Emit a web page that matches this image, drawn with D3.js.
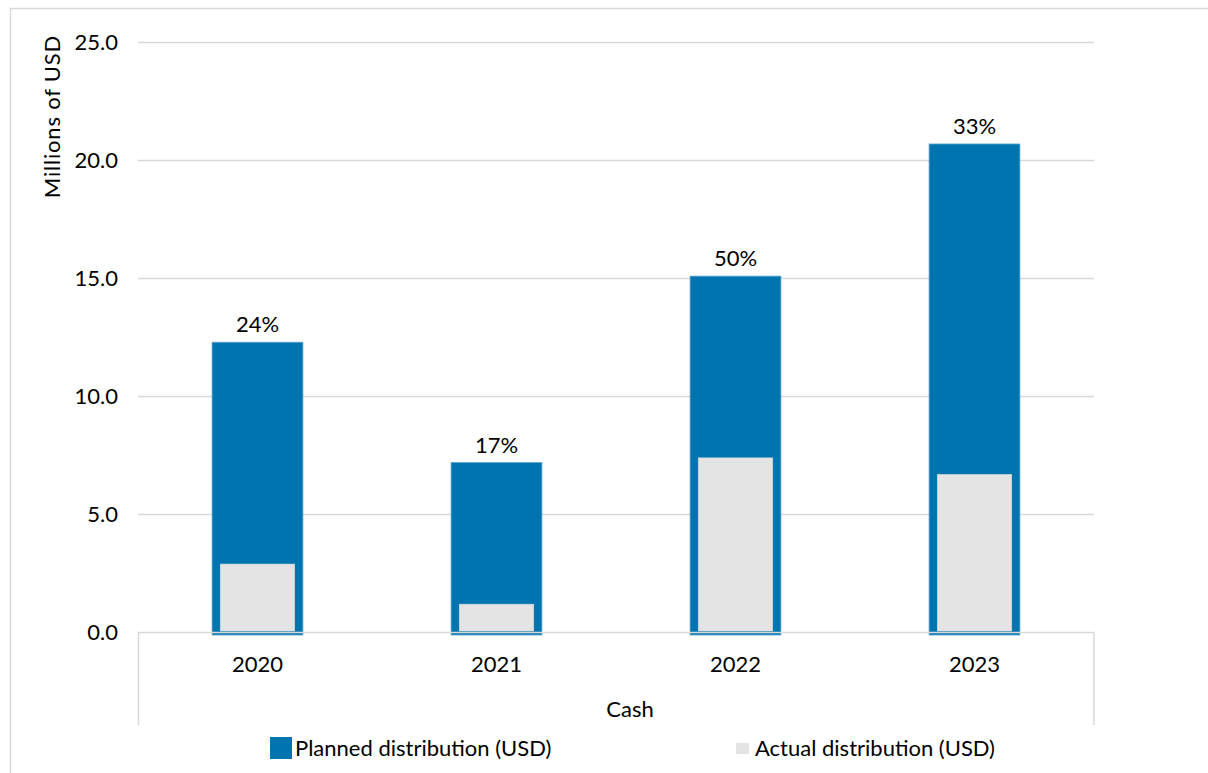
<!DOCTYPE html>
<html>
<head>
<meta charset="utf-8">
<script src="https://cdn.jsdelivr.net/npm/d3@7"></script>
<style>
  html, body { margin: 0; padding: 0; background: #fff; }
  svg { display: block; font-family: Lato, "Open Sans", sans-serif; }
</style>
</head>
<body>
<svg id="chart" width="1208" height="773"></svg>
<script>
// Distribution data (millions of USD)
const years = ["2020", "2021", "2022", "2023"];
const planned = [12.3, 7.2, 15.1, 20.7];
const actual = [2.9, 1.2, 7.4, 6.7];
const shareLabels = ["24%", "17%", "50%", "33%"];
const yTicks = [0, 5, 10, 15, 20, 25];
const seriesNames = ["Planned distribution (USD)", "Actual distribution (USD)"];
const groupLabel = "Cash";
const yTitle = "Millions of USD";

const BLUE = "#0074ae";
const GREY = "#e4e4e4";
const GRID = "#d9d9d9";
const FS = 22;

const svg = d3.select("#chart");

// outer frame
svg.append("rect")
  .attr("x", 10.5).attr("y", 8.5)
  .attr("width", 1210).attr("height", 780)
  .attr("fill", "none").attr("stroke", GRID).attr("stroke-width", 1.5);

const plot = { left: 138, right: 1094, top: 42.5, bottom: 632.5 };

const x = d3.scaleBand()
  .domain(years)
  .range([plot.left, plot.right])
  .paddingInner(0.62)
  .paddingOuter(0.31);

const y = d3.scaleLinear()
  .domain([0, 25])
  .range([plot.bottom, plot.top]);

// gridlines
svg.append("g")
  .selectAll("line")
  .data(yTicks.filter(d => d > 0))
  .join("line")
  .attr("x1", plot.left).attr("x2", plot.right)
  .attr("y1", d => y(d)).attr("y2", d => y(d))
  .attr("stroke", GRID).attr("stroke-width", 1.5);

// y tick labels
const yAxis = d3.axisLeft(y).tickValues(yTicks).tickFormat(d3.format(".1f")).tickSize(0).tickPadding(0);
const gy = svg.append("g").attr("transform", "translate(118,0)").call(yAxis);
gy.select(".domain").remove();
gy.selectAll("text")
  .attr("font-size", FS).attr("fill", "#000")
  .attr("font-family", "Lato, 'Open Sans', sans-serif");

// planned bars (extend slightly below the baseline)
svg.append("g")
  .selectAll("rect")
  .data(years)
  .join("rect")
  .attr("x", d => x(d))
  .attr("width", x.bandwidth())
  .attr("y", (d, i) => y(planned[i]))
  .attr("height", (d, i) => y(0) - y(planned[i]) + 2.5)
  .attr("fill", BLUE)
  .attr("stroke", "#5aa3cf").attr("stroke-width", 0.8);

// actual bars, narrower and drawn inside the planned bars
const inset = x.bandwidth() * 0.09;
svg.append("g")
  .selectAll("rect")
  .data(years)
  .join("rect")
  .attr("x", d => x(d) + inset)
  .attr("width", x.bandwidth() - 2 * inset)
  .attr("y", (d, i) => y(actual[i]))
  .attr("height", (d, i) => y(0) - y(actual[i]) - 1.5)
  .attr("fill", GREY)
  .attr("stroke", "#cfd8de").attr("stroke-width", 0.6);

// category axis with group bracket
const axisG = svg.append("g").attr("stroke", GRID).attr("stroke-width", 1.5).attr("fill", "none");
axisG.append("line")
  .attr("x1", plot.left).attr("x2", plot.right)
  .attr("y1", y(0)).attr("y2", y(0));
axisG.append("line")
  .attr("x1", plot.left + 0.5).attr("x2", plot.left + 0.5)
  .attr("y1", y(0)).attr("y2", 725);
axisG.append("line")
  .attr("x1", plot.right).attr("x2", plot.right)
  .attr("y1", y(0)).attr("y2", 725);

// year labels
const gx = svg.append("g")
  .attr("transform", `translate(0,${y(0)})`)
  .call(d3.axisBottom(x).tickSize(0).tickPadding(0));
gx.select(".domain").remove();
gx.selectAll("text")
  .attr("dy", null)
  .attr("y", 39)
  .attr("font-size", FS).attr("fill", "#000")
  .attr("font-family", "Lato, 'Open Sans', sans-serif");

svg.append("text")
  .attr("x", 630).attr("y", 717)
  .attr("text-anchor", "middle")
  .attr("font-size", FS)
  .text(groupLabel);

// share labels above bars
svg.append("g")
  .selectAll("text")
  .data(years)
  .join("text")
  .attr("x", d => x(d) + x.bandwidth() / 2)
  .attr("y", (d, i) => y(planned[i]) - 10)
  .attr("text-anchor", "middle")
  .attr("font-size", FS)
  .text((d, i) => shareLabels[i]);

// y axis title
svg.append("text")
  .attr("transform", "translate(60,35) rotate(-90)")
  .attr("text-anchor", "end")
  .attr("font-size", FS)
  .attr("letter-spacing", 0.8)
  .text(yTitle);

// legend
const legend = svg.append("g");
legend.append("rect")
  .attr("x", 270).attr("y", 737).attr("width", 22).attr("height", 22)
  .attr("fill", BLUE);
legend.append("text")
  .attr("x", 295).attr("y", 756)
  .attr("font-size", FS)
  .text(seriesNames[0]);
legend.append("rect")
  .attr("x", 736).attr("y", 743).attr("width", 13).attr("height", 11)
  .attr("fill", GREY);
legend.append("text")
  .attr("x", 755).attr("y", 756)
  .attr("font-size", FS)
  .text(seriesNames[1]);
</script>
</body>
</html>
